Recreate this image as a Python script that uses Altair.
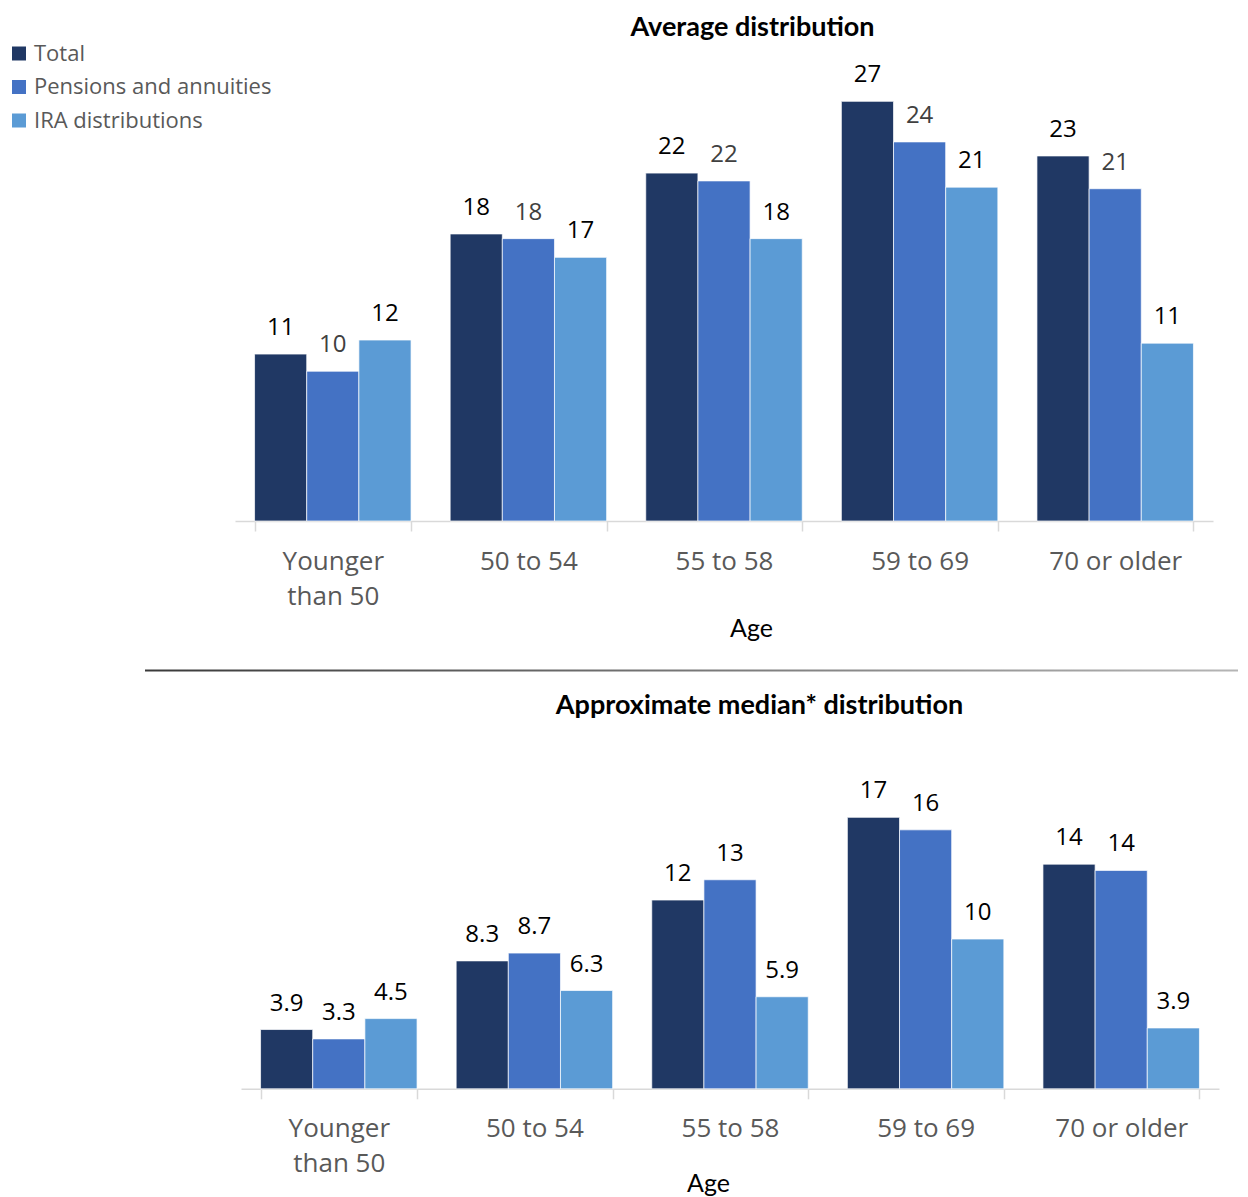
import altair as alt
import pandas as pd

categories = ["Younger than 50", "50 to 54", "55 to 58", "59 to 69", "70 or older"]
series = ["Total", "Pensions and annuities", "IRA distributions"]
colors = ["#203864", "#4472C4", "#5B9BD5"]

# Average distribution
avg_total = [10.7, 18.4, 22.3, 26.9, 23.4]
avg_pensions = [9.6, 18.1, 21.8, 24.3, 21.3]
avg_ira = [11.6, 16.9, 18.1, 21.4, 11.4]
avg_total_labels = ["11", "18", "22", "27", "23"]
avg_pensions_labels = ["10", "18", "22", "24", "21"]
avg_ira_labels = ["12", "17", "18", "21", "11"]

# Approximate median distribution
med_total = [3.8, 8.2, 12.1, 17.4, 14.4]
med_pensions = [3.2, 8.7, 13.4, 16.6, 14.0]
med_ira = [4.5, 6.3, 5.9, 9.6, 3.9]
med_total_labels = ["3.9", "8.3", "12", "17", "14"]
med_pensions_labels = ["3.3", "8.7", "13", "16", "14"]
med_ira_labels = ["4.5", "6.3", "5.9", "10", "3.9"]


def build(vals, labels):
    rows = []
    for s, v, l in zip(series, vals, labels):
        for c, vv, ll in zip(categories, v, l):
            rows.append({"category": c, "series": s, "value": vv, "label": ll})
    return pd.DataFrame(rows)


df_avg = build([avg_total, avg_pensions, avg_ira],
               [avg_total_labels, avg_pensions_labels, avg_ira_labels])
df_med = build([med_total, med_pensions, med_ira],
               [med_total_labels, med_pensions_labels, med_ira_labels])

legend = alt.Legend(
    title=None, orient="none", legendX=-227, legendY=-10.5, symbolType="square",
    symbolSize=196, symbolStrokeWidth=0, labelFont="Open Sans", labelFontSize=22,
    labelColor="#595959", rowPadding=11.5, labelOffset=4, padding=0, labelLimit=500,
)


def panel(df, title_text, title_dx, title_offset, ymax, height, width,
          age_x, age_y, xrange=None, pens_color="black", separator=False):
    sc = dict(paddingInner=0.2, paddingOuter=0.1)
    if xrange is not None:
        sc["range"] = xrange
    x = alt.X(
        "category:N", sort=categories, scale=alt.Scale(**sc),
        axis=alt.Axis(
            title="Age", labelAngle=0,
            labelExpr="datum.value == 'Younger than 50' ? ['Younger', 'than 50'] : datum.value",
            domainColor="#d9d9d9", domainWidth=1.5, tickColor="#d9d9d9", tickWidth=1.5,
            tickSize=10, tickBand="extent", labelFont="Open Sans", labelFontSize=26,
            labelColor="#595959", labelPadding=38, labelBaseline="alphabetic",
            labelLineHeight=35, titleFont="Lato", titleFontSize=25,
            titleFontWeight="normal", titleColor="black", titleX=age_x, titleY=age_y,
            titleBaseline="alphabetic", titleAlign="center",
        ),
    )
    y = alt.Y("value:Q", scale=alt.Scale(domain=[0, ymax], nice=False), axis=None)
    xo = alt.XOffset("series:N", sort=series, scale=alt.Scale(paddingInner=0, paddingOuter=0))
    bars = alt.Chart(df).mark_bar(stroke="white", strokeWidth=0.7).encode(
        x=x, y=y, xOffset=xo,
        color=alt.Color("series:N", sort=series,
                        scale=alt.Scale(domain=series, range=colors), legend=legend),
    )
    text = alt.Chart(df).mark_text(
        dy=-19, baseline="alphabetic", font="Open Sans", fontSize=24
    ).encode(
        x=x, y=y, xOffset=xo, text="label:N",
        color=alt.condition(alt.datum.series == "Pensions and annuities",
                            alt.value(pens_color), alt.value("black")),
    )
    layers = [bars, text]
    if separator:
        sep = alt.Chart(pd.DataFrame({"k": [0]})).mark_rect(
            fill=alt.LinearGradient(
                gradient="linear",
                stops=[alt.GradientStop(color="#3a3a3a", offset=0),
                       alt.GradientStop(color="#b5b5b5", offset=1)],
                x1=0, x2=1, y1=0, y2=0,
            )
        ).encode(x=alt.value(-90), x2=alt.value(1003), y=alt.value(616.5), y2=alt.value(618.5))
        layers.append(sep)
    return alt.layer(*layers).properties(
        width=width, height=height,
        title=alt.TitleParams(
            text=title_text, font="Lato", fontSize=27, fontWeight="bold", color="black",
            anchor="middle", dx=title_dx, offset=title_offset, baseline="alphabetic",
        ),
    )


top = panel(df_avg, "Average distribution", 28.5, -9.6, 30, 468, 978, 516, 115.5,
            pens_color="#404040", separator=True)
bottom = panel(df_med, "Approximate median* distribution", 32.5, 36, 20, 312, 984,
               473, 103, xrange=[6, 984])

chart = alt.vconcat(top, bottom, spacing=255.8, bounds="flush").configure_view(
    stroke=None
).properties(padding={"left": 0, "top": 5, "right": 0, "bottom": 0})

chart.save("out.html", embed_options={"renderer": "svg", "actions": False})
